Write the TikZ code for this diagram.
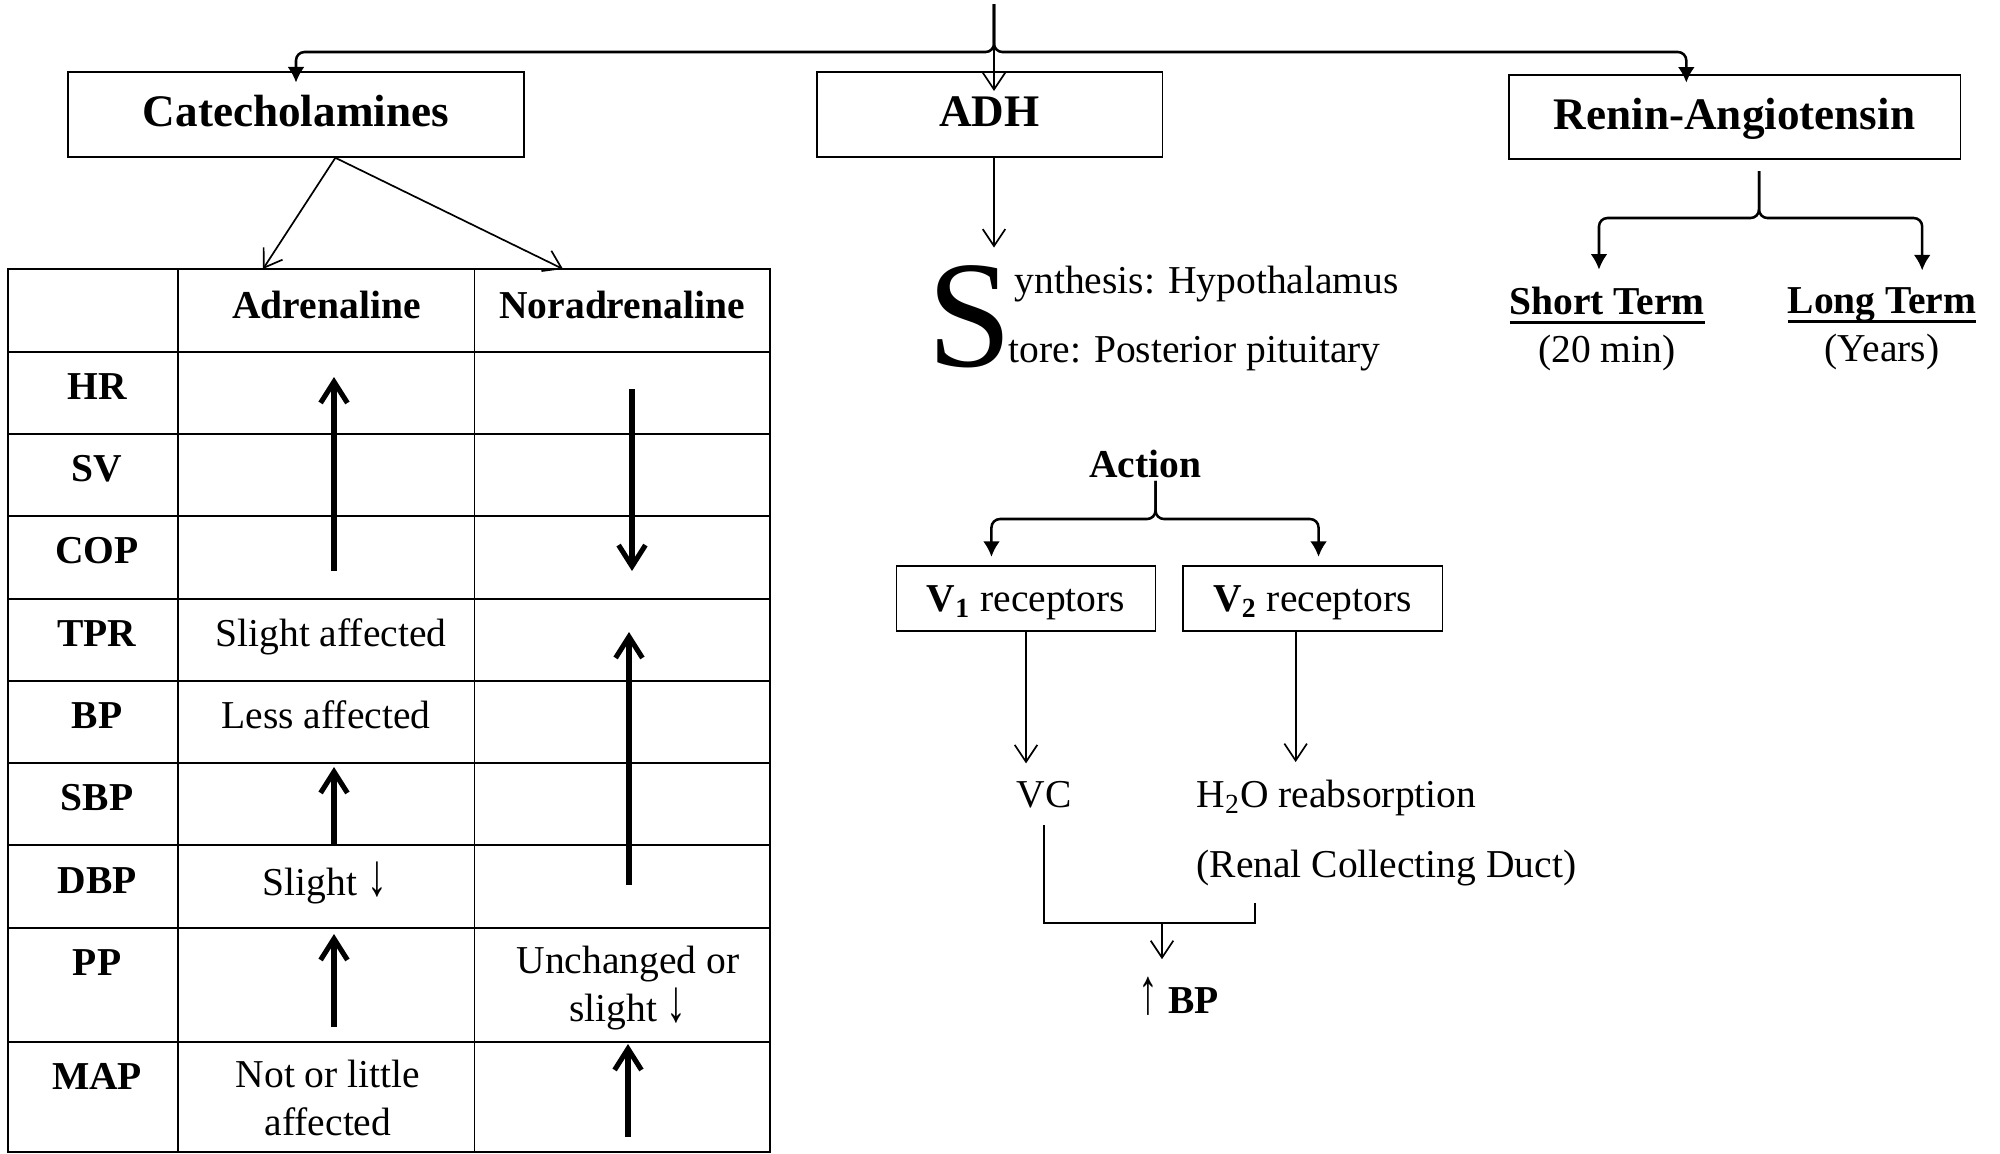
\documentclass[tikz,border=0pt]{standalone}
\usepackage{fontspec}
\setmainfont{Liberation Serif}
\usepackage{graphicx}
\usetikzlibrary{arrows.meta}

\newcommand{\bodysize}{\fontsize{14}{17}\selectfont}
\newcommand{\titlesize}{\fontsize{16}{19}\selectfont}
\newsavebox{\termbox}
\newcommand{\termline}[1]{\sbox{\termbox}{#1}\rlap{\rule[-3.3pt]{\wd\termbox}{1pt}}\usebox{\termbox}}
\newcommand{\dnarr}{\resizebox{0.5em}{0.85em}{↓}}
\newcommand{\uparr}{\resizebox{0.5em}{0.92em}{↑}}

\begin{document}
\begin{tikzpicture}[
  x=1.245cm, y=-1.245cm,
  box/.style={draw, line width=0.5pt, inner sep=0pt, text height=11pt, text depth=2.2pt, font=\titlesize\bfseries},
  vbox/.style={draw, line width=0.5pt, inner sep=0pt, minimum width=3.23cm, minimum height=0.81cm, text height=11pt, text depth=2pt, font=\bodysize},
  txt/.style={anchor=base, inner sep=6pt, font=\bodysize},
  lbl/.style={anchor=base, inner sep=1pt, font=\bodysize\bfseries},
  cell/.style={anchor=base, inner sep=1pt, font=\bodysize},
  arr/.style={line width=0.6pt, -{Straight Barb[length=6pt,width=8pt]}},
  brc/.style={line width=0.9pt, rounded corners=3pt, -{Latex[length=5.5pt,width=6pt]}},
  updown/.style={line width=1.8pt, -{Straight Barb[length=7.5pt,width=9.5pt]}},
  rule/.style={line width=0.6pt}
]
\useasboundingbox (0,0) rectangle (20,11.53);

% three controls
\node[box, minimum width=5.68cm, minimum height=1.06cm] (cat) at (2.96,1.145) {Catecholamines};
\node[box, minimum width=4.30cm, minimum height=1.06cm] (adh) at (9.895,1.145) {ADH};
\node[box, minimum width=5.62cm, minimum height=1.05cm] (renin) at (17.345,1.17) {Renin-Angiotensin};

\coordinate (src) at (9.94,0.04);
\coordinate (fork) at (9.94,0.52);
\draw[brc, shorten >=-4pt] (src) -- (fork) -| (cat.north);
\draw[brc, shorten >=-3pt] (src) -- (fork) -| ([xshift=-6mm]renin.north);
\draw[arr, shorten >=-7pt] (src) -- (src |- adh.north);

% Catecholamines table
\coordinate (catfoot) at ([xshift=4.9mm]cat.south);
\coordinate (adrtop) at (2.63,2.69);
\coordinate (nortop) at (5.63,2.69);
\draw[arr] (catfoot) -- (adrtop);
\draw[arr] (catfoot) -- (nortop);

\draw[rule] (0.08,2.69) rectangle (7.70,11.52);
\foreach \x in {1.78,4.745}
  \draw[rule] (\x,2.69) -- (\x,11.52);
\foreach \y in {3.52,4.34,5.16,5.99,6.81,7.63,8.45,9.28,10.42}
  \draw[rule] (0.08,\y) -- (7.70,\y);

\node[lbl] (hadr) at (3.265,3.18) {Adrenaline};
\node[lbl] (hnor) at (6.22,3.18) {Noradrenaline};
\foreach \lab/\y in {HR/3.995,SV/4.815,COP/5.635,TPR/6.465,BP/7.285,SBP/8.105,DBP/8.93,PP/9.755,MAP/10.895}
  \node[lbl] (row\lab) at (0.97,\y) {\lab};

\node[cell] (tpra) at (3.31,6.465) {Slight affected};
\node[cell] (bpa) at (3.26,7.285) {Less affected};
\node[cell] (dbpa) at (3.25,8.95) {Slight \dnarr};
\node[cell, anchor=center, align=center] (ppn) at (6.28,9.88) {Unchanged or\\slight \dnarr};
\node[cell, anchor=center, align=center] (mapa) at (3.28,10.98) {Not or little\\affected};

\draw[updown] (3.34,5.71) -- (3.34,3.77);
\draw[updown] (3.34,8.45) -- (3.34,7.67);
\draw[updown] (3.34,10.27) -- (3.34,9.34);
\draw[updown] (6.32,3.89) -- (6.32,5.71);
\draw[updown] (6.29,8.85) -- (6.29,6.32);
\draw[updown] (6.28,11.37) -- (6.28,10.44);

% ADH
\node[txt, font=\fontsize{54}{54}\selectfont] (sdrop) at (9.695,3.66) {S};
\draw[arr] (adh.south -| src) -- (sdrop.north -| src);
\node[txt, anchor=base west, inner sep=0pt] (synth) at (10.14,2.93) {ynthesis: Hypothalamus};
\node[txt, anchor=base west, inner sep=0pt] (store) at (10.08,3.62) {tore: Posterior pituitary};

\node[lbl] (action) at (11.45,4.77) {Action};
\node[vbox] (v1) at (10.26,5.985) {\textbf{V\textsubscript{1}} receptors};
\node[vbox] (v2) at (13.125,5.985) {\textbf{V\textsubscript{2}} receptors};
\coordinate (afork) at (11.555,5.19);
\draw[brc, shorten >=3pt] (afork |- action.south) -- (afork) -| ([xshift=-4.3mm]v1.north);
\draw[brc, shorten >=3pt] (afork |- action.south) -- (afork) -| ([xshift=0.75mm]v2.north);

\node[txt] (vc) at (10.44,8.07) {VC};
\node[txt, anchor=base west] (h2o) at (11.79,8.07) {H\textsubscript{2}O reabsorption};
\node[txt, anchor=base west] (duct) at (11.79,8.77) {(Renal Collecting Duct)};
\coordinate (v2foot) at ([xshift=-2.1mm]v2.south);
\draw[arr] (v1.south) -- (v1.south |- vc.north);
\draw[arr] (v2foot) -- (v2foot |- h2o.north);

\coordinate (join) at (11.62,9.23);
\coordinate (ductfoot) at ([xshift=9.5mm]duct.south west);
\draw[rule] (vc.south) |- (join) -| (ductfoot);
\node[txt] (bp) at (11.79,10.13) {\uparr\ \textbf{BP}};
\draw[arr] (join) -- (join |- bp.north);

% Renin-Angiotensin
\node[txt, anchor=center, align=center] (short) at (16.07,3.29) {\textbf{\termline{Short Term}}\\(20 min)};
\node[txt, anchor=center, align=center] (long) at (18.82,3.29) {\textbf{\termline{Long Term}}\\(Years)};
\coordinate (rfork) at (17.59,2.18);
\draw[brc, shorten <=4pt] (rfork |- renin.south) -- (rfork) -| ([xshift=-1mm]short.north);
\draw[brc, shorten <=4pt] (rfork |- renin.south) -- (rfork) -| ([xshift=5mm]long.north);
\end{tikzpicture}
\end{document}
